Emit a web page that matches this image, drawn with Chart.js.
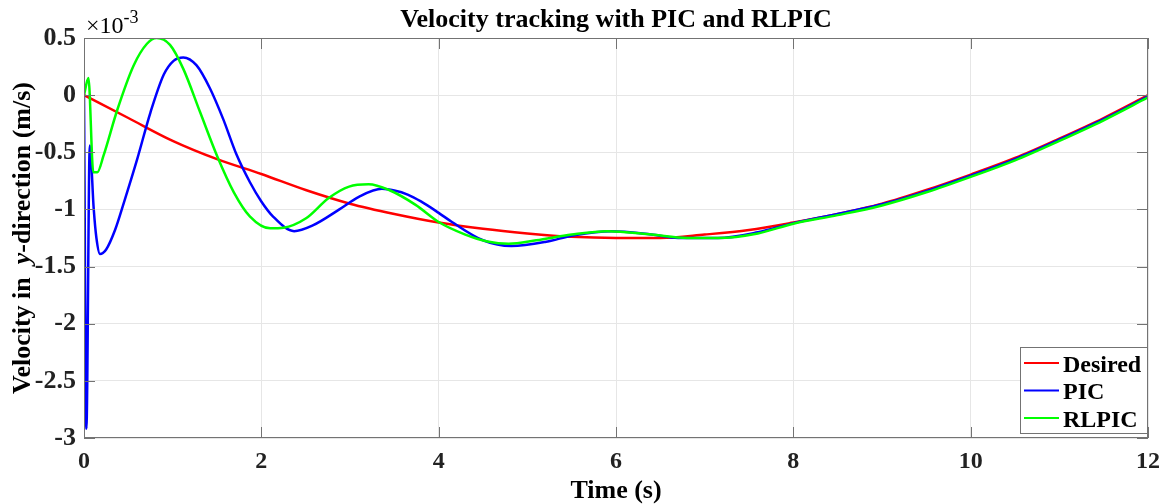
<!DOCTYPE html>
<html>
<head>
<meta charset="utf-8">
<script src="https://cdn.jsdelivr.net/npm/chart.js@4.4.1/dist/chart.umd.min.js"></script>
<style>
  html, body { margin: 0; padding: 0; background: #ffffff; }
  #wrap { width: 1169px; height: 504px; position: relative; }
</style>
</head>
<body>
<div id="wrap"><canvas id="c" width="1169" height="504"></canvas></div>
<script>
// ---- data (values in units of 1e-3 m/s) ----
const chartTitle = "Velocity tracking with PIC and RLPIC";
const seriesNames = ["Desired", "PIC", "RLPIC"];
const xTickValues = [0, 2, 4, 6, 8, 10, 12];
const yTickValues = [0.5, 0, -0.5, -1, -1.5, -2, -2.5, -3];

const timeDesired = [0, 0.5, 1, 1.5, 2, 2.5, 3, 3.5, 4, 4.5, 5, 5.5, 6, 6.5, 7, 7.5, 8, 8.5, 9, 9.5, 10, 10.5, 11, 11.5, 12];
const velDesired  = [0, -0.2, -0.4, -0.56, -0.69, -0.83, -0.95, -1.04, -1.115, -1.17, -1.21, -1.24, -1.25, -1.25, -1.22, -1.18, -1.115, -1.04, -0.95, -0.83, -0.695, -0.55, -0.38, -0.2, 0];

const timePIC = [0, 0.027, 0.065, 0.11, 0.14, 0.18, 0.25, 0.35, 0.45, 0.6, 0.75, 0.9, 1.01, 1.12, 1.27, 1.42, 1.57, 1.72, 1.87, 2.0, 2.13, 2.37, 2.58, 2.88, 3.1, 3.36, 3.5, 3.65, 3.8, 4.0, 4.15, 4.5, 4.82, 5.2, 5.53, 5.95, 6.4, 6.7, 7.15, 7.6, 8, 8.5, 9, 9.5, 10, 10.5, 11, 11.5, 12];
const velPIC  = [0, -2.92, -0.44, -1.0, -1.25, -1.39, -1.35, -1.18, -0.94, -0.56, -0.15, 0.18, 0.30, 0.33, 0.26, 0.06, -0.21, -0.52, -0.76, -0.93, -1.06, -1.19, -1.14, -1.0, -0.89, -0.82, -0.835, -0.87, -0.93, -1.03, -1.11, -1.27, -1.32, -1.285, -1.225, -1.19, -1.22, -1.25, -1.25, -1.2, -1.12, -1.04, -0.955, -0.84, -0.705, -0.56, -0.39, -0.21, -0.01];

const timeRLPIC = [0, 0.05, 0.105, 0.15, 0.22, 0.375, 0.56, 0.71, 0.82, 0.97, 1.12, 1.31, 1.5, 1.69, 1.87, 2.1, 2.25, 2.5, 2.76, 2.99, 3.21, 3.44, 3.74, 4.0, 4.3, 4.55, 4.79, 5.1, 5.5, 5.9, 6.4, 6.8, 7.15, 7.6, 8, 8.5, 9, 9.5, 10, 10.5, 11, 11.5, 12];
const velRLPIC  = [0, 0.15, -0.675, -0.675, -0.53, -0.13, 0.26, 0.45, 0.5, 0.44, 0.23, -0.15, -0.53, -0.85, -1.06, -1.165, -1.16, -1.08, -0.90, -0.80, -0.78, -0.83, -0.96, -1.11, -1.22, -1.28, -1.30, -1.27, -1.22, -1.19, -1.22, -1.25, -1.25, -1.21, -1.125, -1.05, -0.965, -0.85, -0.715, -0.57, -0.40, -0.22, -0.02];

const seriesColors = ["#ff0000", "#0000ff", "#00ff00"];

function pts(ts, vs) { return ts.map((t, i) => ({ x: t, y: vs[i] })); }

const SERIF = '"Liberation Serif", "Times New Roman", serif';
const AXIS_COLOR = "#737373";

const decorPlugin = {
  id: "decor",
  beforeDraw(chart) {
    const ctx = chart.ctx;
    ctx.save();
    ctx.fillStyle = "#ffffff";
    ctx.fillRect(0, 0, chart.width, chart.height);
    ctx.restore();
  },
  afterDatasetsDraw(chart) {
    const ctx = chart.ctx;
    const a = chart.chartArea;
    const xs = chart.scales.x, ys = chart.scales.y;
    ctx.save();
    // axes box
    ctx.strokeStyle = AXIS_COLOR;
    ctx.lineWidth = 1;
    ctx.strokeRect(Math.round(a.left) + 0.5, Math.round(a.top) + 0.5, Math.round(a.right - a.left) - 1, Math.round(a.bottom - a.top) - 1);
    // inward ticks
    const tl = 11;
    ctx.beginPath();
    xTickValues.forEach(v => {
      const px = Math.round(xs.getPixelForValue(v)) + 0.5;
      ctx.moveTo(px, a.bottom); ctx.lineTo(px, a.bottom - tl);
      ctx.moveTo(px, a.top); ctx.lineTo(px, a.top + tl);
    });
    yTickValues.forEach(v => {
      const py = Math.round(ys.getPixelForValue(v)) + 0.5;
      ctx.moveTo(a.left, py); ctx.lineTo(a.left + tl, py);
      ctx.moveTo(a.right, py); ctx.lineTo(a.right - tl, py);
    });
    ctx.stroke();

    // legend
    const lx = 1020, ly = 347, lw = 127, lh = 86;
    ctx.fillStyle = "#ffffff";
    ctx.fillRect(lx, ly, lw, lh);
    ctx.strokeStyle = AXIS_COLOR;
    ctx.strokeRect(lx + 0.5, ly + 0.5, lw, lh);
    const rowY = [363, 390.5, 418];
    ctx.font = "bold 24px " + SERIF;
    ctx.textAlign = "left";
    ctx.textBaseline = "alphabetic";
    seriesNames.forEach((name, i) => {
      ctx.strokeStyle = seriesColors[i];
      ctx.lineWidth = 2;
      ctx.beginPath();
      ctx.moveTo(1024, rowY[i]); ctx.lineTo(1059, rowY[i]);
      ctx.stroke();
      ctx.fillStyle = "#000000";
      ctx.fillText(name, 1063, rowY[i] + 8.5);
    });
    ctx.restore();
  },
  afterDraw(chart) {
    const ctx = chart.ctx;
    const a = chart.chartArea;
    ctx.save();
    ctx.fillStyle = "#000000";
    // title
    ctx.font = "bold 26px " + SERIF;
    ctx.textAlign = "center";
    ctx.textBaseline = "alphabetic";
    ctx.fillText(chartTitle, (a.left + a.right) / 2, 27);
    // x label
    ctx.fillText("Time (s)", (a.left + a.right) / 2, 498);
    // y label with italic y
    const parts = [["Velocity in  ", "bold 26px " + SERIF], ["y", "italic bold 26px " + SERIF], ["-direction (m/s)", "bold 26px " + SERIF]];
    let total = 0;
    const widths = parts.map(p => { ctx.font = p[1]; const w = ctx.measureText(p[0]).width; total += w; return w; });
    ctx.translate(30, (a.top + a.bottom) / 2);
    ctx.rotate(-Math.PI / 2);
    ctx.textAlign = "left";
    let cx = -total / 2;
    parts.forEach((p, i) => { ctx.font = p[1]; ctx.fillText(p[0], cx, 0); cx += widths[i]; });
    ctx.restore();
    // exponent
    ctx.save();
    ctx.fillStyle = "#000000";
    ctx.textAlign = "left";
    ctx.font = "24px " + SERIF;
    ctx.fillText("\u00d710", 86, 33);
    const w = ctx.measureText("\u00d710").width;
    ctx.font = "18px " + SERIF;
    ctx.fillText("-3", 86 + w, 23);
    ctx.restore();
  }
};

new Chart(document.getElementById("c"), {
  type: "line",
  data: {
    datasets: [
      { label: seriesNames[0], data: pts(timeDesired, velDesired), borderColor: seriesColors[0], order: 2 },
      { label: seriesNames[1], data: pts(timePIC, velPIC), borderColor: seriesColors[1], order: 1 },
      { label: seriesNames[2], data: pts(timeRLPIC, velRLPIC), borderColor: seriesColors[2], order: 0 }
    ]
  },
  options: {
    responsive: false,
    animation: false,
    devicePixelRatio: 1,
    elements: {
      point: { radius: 0, hoverRadius: 0 },
      line: { borderWidth: 2.5, cubicInterpolationMode: "monotone", fill: false }
    },
    layout: { padding: { left: 0, right: 17, top: 38, bottom: 0 } },
    plugins: {
      legend: { display: false },
      title: { display: false },
      tooltip: { enabled: false }
    },
    scales: {
      x: {
        type: "linear",
        min: 0, max: 12,
        afterFit(s) { s.height = 66; },
        afterBuildTicks(s) { s.ticks = xTickValues.map(v => ({ value: v })); },
        grid: { color: "#e6e6e6", lineWidth: 1, drawTicks: false },
        border: { display: false },
        ticks: {
          padding: 9,
          color: "#222222",
          font: { family: SERIF, size: 24, weight: "bold" },
          callback: v => String(v)
        }
      },
      y: {
        type: "linear",
        min: -3, max: 0.5,
        afterFit(s) { s.width = 84; },
        afterBuildTicks(s) { s.ticks = yTickValues.map(v => ({ value: v })); },
        grid: { color: "#e6e6e6", lineWidth: 1, drawTicks: false },
        border: { display: false },
        ticks: {
          padding: 8,
          color: "#222222",
          font: { family: SERIF, size: 26, weight: "bold" },
          callback: v => String(Math.round(v * 10) / 10)
        }
      }
    }
  },
  plugins: [decorPlugin]
});
</script>
</body>
</html>
